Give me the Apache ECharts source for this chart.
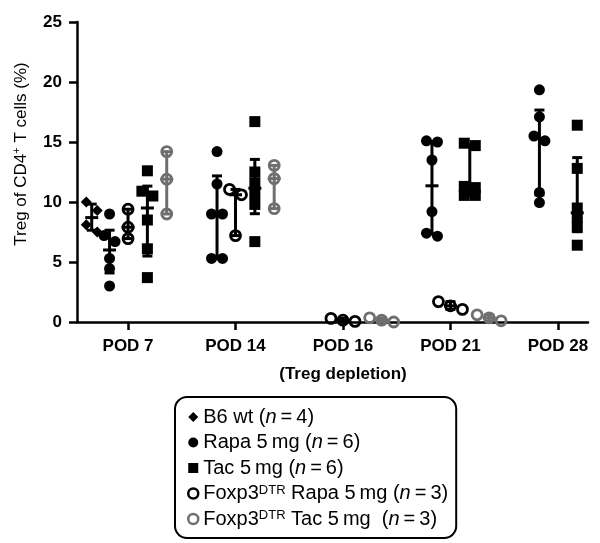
<!DOCTYPE html>
<html>
<head>
<meta charset="utf-8">
<title>Treg of CD4+ T cells</title>
<script src="https://cdn.jsdelivr.net/npm/echarts@6/dist/echarts.min.js"></script>
<style>
  html, body { margin: 0; padding: 0; background: #fff; }
  #chart { width: 600px; height: 543px; }
</style>
</head>
<body>
<div id="chart"></div>
<script>
// time points (x categories)
var pods = ['POD 7', 'POD 14', 'POD 16', 'POD 21', 'POD 28'];
var yTicks = [0, 5, 10, 15, 20, 25];

// Treg % per animal, one list per time point (null = not measured)
var b6wt = [[10.0, 9.3, 8.1, 7.5], null, null, null, null];
var rapa = [
    [9.0, 7.2, 6.7, 5.3, 4.45, 3.0],
    [14.2, 11.5, 9.0, 9.0, 5.3, 5.3],
    null,
    [15.1, 15.0, 13.5, 9.2, 7.4, 7.15],
    [19.35, 17.1, 15.5, 15.1, 10.8, 9.95]
];
var tac = [
    [12.6, 10.9, 10.5, 8.5, 6.1, 3.7],
    [16.7, 12.5, 11.6, 10.7, 9.8, 6.7],
    null,
    [14.9, 14.7, 11.3, 11.2, 10.55, 10.55],
    [16.4, 12.8, 9.5, 8.7, 7.9, 6.4]
];
var foxRapa = [[9.4, 7.9, 6.95], [11.05, 10.6, 7.2], [0.3, 0.15, 0.05], [1.7, 1.35, 1.05], null];
var foxTac = [[14.2, 11.9, 9.0], [13.05, 11.95, 9.45], [0.35, 0.15, 0.0], [0.6, 0.35, 0.1], null];

var groupNames = ['B6 wt', 'Rapa 5 mg', 'Tac 5 mg', 'Foxp3DTR Rapa 5 mg', 'Foxp3DTR Tac 5 mg'];
var groupN = [4, 6, 6, 3, 3];

// layout
var gridL = 77, gridR = 12, gridT = 22, gridB = 221;
var xMin = -0.475, xMax = 4.28;
var pxX = (600 - gridL - gridR) / (xMax - xMin);
var pxY = (543 - gridT - gridB) / 25;
var font = '"Liberation Sans", Arial, sans-serif';
var gray = '#6f6f6f';

// Prism-like spread: values that overlap the first point of a row share the row
function spread(vals, center, size) {
    var order = vals.slice().sort(function (a, b) { return b - a; });
    var rows = [], row = null;
    order.forEach(function (v) {
        if (row && (row[0] - v) * pxY < size * 0.8) row.push(v);
        else { row = [v]; rows.push(row); }
    });
    var out = [];
    rows.forEach(function (r) {
        r.forEach(function (v, i) {
            var dx = (i - (r.length - 1) / 2) * size;
            out.push([center + dx / pxX, v]);
        });
    });
    return out;
}

function quant(sorted, p) {
    var n = sorted.length, pos = p * (n + 1);
    if (pos <= 1) return sorted[0];
    if (pos >= n) return sorted[n - 1];
    var lo = Math.floor(pos);
    return sorted[lo - 1] + (pos - lo) * (sorted[lo] - sorted[lo - 1]);
}

function makeGroup(name, list, offset, symbol, size, color, hollow) {
    var pts = [], bars = [];
    list.forEach(function (vals, i) {
        if (!vals) return;
        var c = i + offset;
        pts = pts.concat(spread(vals, c, hollow ? size + 2 : size));
        var s = vals.slice().sort(function (a, b) { return a - b; });
        bars.push([c, quant(s, 0.25), quant(s, 0.5), quant(s, 0.75)]);
    });
    return [{
        name: name + ' bar',
        type: 'custom',
        z: 2,
        clip: false,
        renderItem: function (params, api) {
            var x = api.value(0);
            var a = api.coord([x, api.value(1)]);
            var m = api.coord([x, api.value(2)]);
            var b = api.coord([x, api.value(3)]);
            var st = { stroke: color, lineWidth: 3 };
            function h(p, w) {
                return { type: 'line', shape: { x1: p[0] - w, y1: p[1], x2: p[0] + w, y2: p[1] }, style: st };
            }
            return {
                type: 'group',
                children: [
                    { type: 'line', shape: { x1: a[0], y1: a[1], x2: b[0], y2: b[1] }, style: st },
                    h(a, 5), h(b, 5), h(m, 6.5)
                ]
            };
        },
        data: bars
    }, {
        name: name,
        type: 'scatter',
        z: 3,
        symbol: symbol,
        symbolSize: size,
        itemStyle: hollow
            ? { color: 'rgba(0,0,0,0)', borderColor: color, borderWidth: 2.8, opacity: 1 }
            : { color: color, opacity: 1 },
        data: pts
    }];
}

var series = []
    .concat(makeGroup(groupNames[0], b6wt, -0.338, 'diamond', 11, '#000', false))
    .concat(makeGroup(groupNames[1], rapa, -0.172, 'circle', 11, '#000', false))
    .concat(makeGroup(groupNames[2], tac, 0.18, 'rect', 11, '#000', false))
    .concat(makeGroup(groupNames[3], foxRapa, 0, 'circle', 10, '#000', true))
    .concat(makeGroup(groupNames[4], foxTac, 0.36, 'circle', 10, gray, true));

var legendText = {};
legendText[groupNames[0]] = '{t|B6 wt (}{i|n}{t|\u2009=\u2009' + groupN[0] + ')}';
legendText[groupNames[1]] = '{t|Rapa 5\u2009mg (}{i|n}{t|\u2009=\u2009' + groupN[1] + ')}';
legendText[groupNames[2]] = '{t|Tac 5\u2009mg (}{i|n}{t|\u2009=\u2009' + groupN[2] + ')}';
legendText[groupNames[3]] = '{t|Foxp3}{s|DTR}{t| Rapa 5\u2009mg (}{i|n}{t|\u2009=\u2009' + groupN[3] + ')}';
legendText[groupNames[4]] = '{t|Foxp3}{s|DTR}{t| Tac 5\u2009mg  (}{i|n}{t|\u2009=\u2009' + groupN[4] + ')}';

var chart = echarts.init(document.getElementById('chart'));
chart.setOption({
    animation: false,
    backgroundColor: '#fff',
    grid: { left: gridL, right: gridR, top: gridT, bottom: gridB, outerBoundsMode: 'none' },
    legend: {
        data: [
            { name: groupNames[0] },
            { name: groupNames[1] },
            { name: groupNames[2] },
            { name: groupNames[3], itemStyle: { borderWidth: 2.5 } },
            { name: groupNames[4], itemStyle: { borderWidth: 2.5 } }
        ],
        orient: 'vertical',
        left: 175,
        top: 397,
        height: 160,
        padding: [10, 8, 9, 12],
        itemGap: 5.5,
        itemWidth: 10,
        itemHeight: 10,
        itemTextGap: 8,
        selectedMode: false,
        borderColor: '#000',
        borderWidth: 2,
        borderRadius: 12,
        formatter: function (name) { return legendText[name]; },
        textStyle: {
            fontFamily: font,
            fontSize: 20,
            color: '#000',
            rich: {
                t: { fontFamily: font, fontSize: 20, lineHeight: 20, color: '#000' },
                i: { fontFamily: font, fontSize: 20, lineHeight: 20, fontStyle: 'italic', color: '#000' },
                s: { fontFamily: font, fontSize: 13, lineHeight: 10, verticalAlign: 'top', color: '#000' }
            }
        }
    },
    xAxis: {
        type: 'value',
        min: xMin,
        max: xMax,
        splitLine: { show: false },
        axisLine: { show: true, lineStyle: { color: '#000', width: 2.5 } },
        axisTick: {
            show: true,
            customValues: [0, 1, 2, 3, 4],
            length: 8,
            lineStyle: { color: '#000', width: 2.5 }
        },
        axisLabel: {
            customValues: [0, 1, 2, 3, 4],
            margin: 16,
            formatter: function (v) {
                var i = Math.round(v);
                if (i === 2) return '{a|' + pods[i] + '}\n{b|(Treg depletion)}';
                return '{a|' + pods[i] + '}';
            },
            rich: {
                a: { fontFamily: font, fontSize: 17, fontWeight: 'bold', lineHeight: 17, color: '#000' },
                b: { fontFamily: font, fontSize: 17, fontWeight: 'bold', lineHeight: 38, color: '#000' }
            }
        }
    },
    yAxis: {
        type: 'value',
        min: yTicks[0],
        max: yTicks[yTicks.length - 1],
        interval: yTicks[1] - yTicks[0],
        splitLine: { show: false },
        axisLine: { show: true, onZero: false, lineStyle: { color: '#000', width: 2.5 } },
        axisTick: { show: true, length: 8, lineStyle: { color: '#000', width: 2.5 } },
        axisLabel: {
            margin: 15,
            fontFamily: font,
            fontSize: 17,
            fontWeight: 'bold',
            color: '#000'
        },
        name: '{a|Treg of CD4}{s|+}{a| T cells (%)}',
        nameLocation: 'middle',
        nameGap: 46,
        nameTextStyle: {
            padding: [0, 0, 0, 36],
            rich: {
                a: { fontFamily: font, fontSize: 17, lineHeight: 20, color: '#000' },
                s: { fontFamily: font, fontSize: 11, lineHeight: 10, verticalAlign: 'top', color: '#000' }
            }
        }
    },
    series: series
});
</script>
</body>
</html>
